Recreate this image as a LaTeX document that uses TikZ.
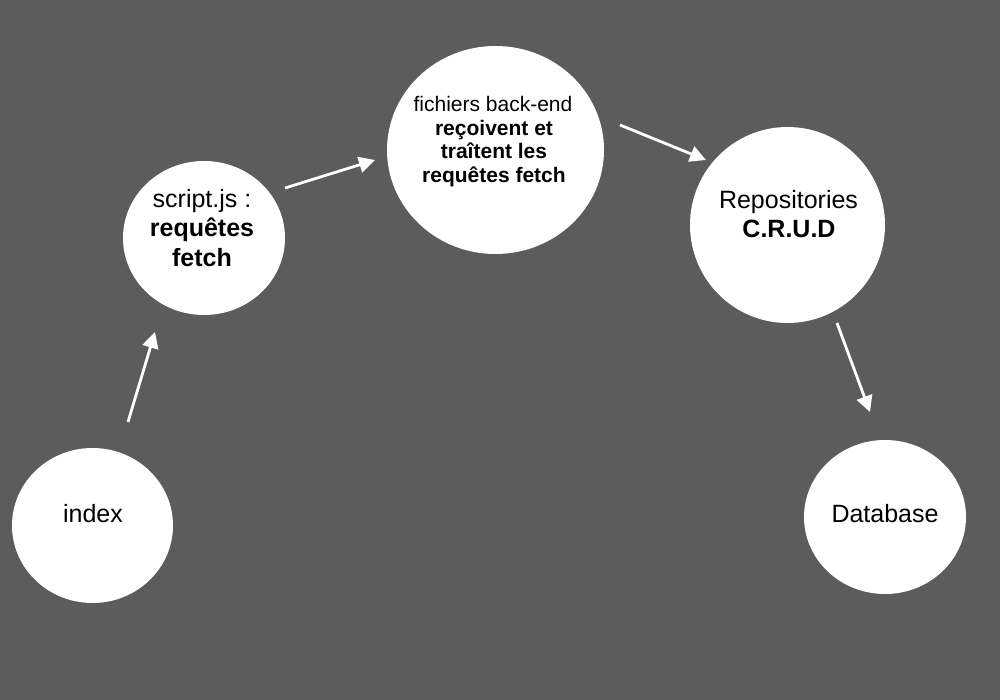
\documentclass[tikz,border=0pt]{standalone}
\usepackage{fontspec}
\setmainfont{Liberation Sans}
\usetikzlibrary{arrows.meta,shapes.geometric}
\definecolor{bggray}{RGB}{92,92,92}
\begin{document}
\begin{tikzpicture}[x=1pt,y=-1pt,
  bubble/.style={ellipse,fill=white,draw=none,inner sep=0pt},
  txt/.style={anchor=base,inner sep=0pt,font=\fontsize{25}{29}\selectfont,text=black},
  txtb/.style={txt,font=\fontsize{25}{29}\selectfont\bfseries},
  stxt/.style={anchor=base,inner sep=0pt,font=\fontsize{21}{24}\selectfont,text=black},
  stxtb/.style={stxt,font=\fontsize{21}{24}\selectfont\bfseries},
  flow/.style={draw=white,line width=2.8pt,-{Triangle[length=16pt,width=16pt]}}]
\fill[bggray] (0,0) rectangle (1000,700);
\useasboundingbox (0,0) rectangle (1000,700);
% circles
\node[bubble,minimum width=161pt,minimum height=155pt] (index) at (92.5,525.5) {};
\node[bubble,minimum width=162pt,minimum height=154pt] (script) at (204,238) {};
\node[bubble,minimum width=217pt,minimum height=208pt] (back) at (495.5,150) {};
\node[bubble,minimum width=195pt,minimum height=196pt] (repo) at (787.5,225) {};
\node[bubble,minimum width=162pt,minimum height=154pt] (db) at (885,517) {};
% texts
\node[txt] (tindex) at (93,522) {index};
\node[txt] (tdb) at (885,522) {Database};
\node[txt] (tscript1) at (202,208) {script.js :};
\node[txtb] (tscript2) at (202,237) {requêtes};
\node[txtb] (tscript3) at (202,267) {fetch};
\node[txt] (trepo1) at (788.5,209) {Repositories};
\node[txtb] (trepo2) at (789,238) {C.R.U.D};
\node[stxt] (tback1) at (493,112) {fichiers back-end};
\node[stxtb] (tback2) at (494,136) {reçoivent et};
\node[stxtb] (tback3) at (494,159) {traîtent les};
\node[stxtb] (tback4) at (494,183) {requêtes fetch};
% arrow ends
\coordinate (a1s) at (128,422);
\coordinate (a1e) at (155,332);
\coordinate (a2s) at (285,188);
\coordinate (a2e) at (375,160);
\coordinate (a3s) at (620,125);
\coordinate (a3e) at (706,160);
\coordinate (a4s) at (837,323);
\coordinate (a4e) at (870,412);
\draw[flow] (a1s) -- (a1e);
\draw[flow] (a2s) -- (a2e);
\draw[flow] (a3s) -- (a3e);
\draw[flow] (a4s) -- (a4e);
\end{tikzpicture}
\end{document}
